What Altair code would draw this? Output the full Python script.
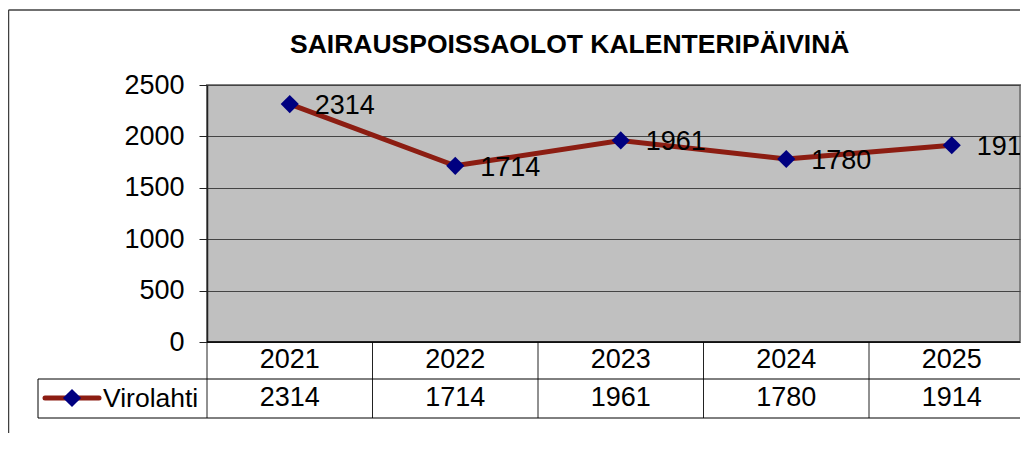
import altair as alt
import pandas as pd

# ---- data ----
years = [2021, 2022, 2023, 2024, 2025]
values = [2314, 1714, 1961, 1780, 1914]
series_name = ["Virolahti"]
title_text = ["SAIRAUSPOISSAOLOT KALENTERIPÄIVINÄ"]
y_ticks = [0, 500, 1000, 1500, 2000, 2500]

FONT = "Liberation Sans, Arial, sans-serif"
RED = "#8C1D12"
NAVY = "#000080"
FS = 27
W = 813
H = 257
CAT = 165.5

df = pd.DataFrame({"year": years, "value": values})
# column boundaries of the data table
bounds = pd.DataFrame({"b": [yr - 0.5 for yr in years]})
one = pd.DataFrame({"series": series_name, "title": title_text})

xscale = alt.Scale(domain=[years[0] - 0.5, years[0] - 0.5 + W / CAT], nice=False, zero=False)
yscale = alt.Scale(domain=[0, 2500], nice=False, zero=True)

x = alt.X("year:Q", scale=xscale, axis=None)
y = alt.Y(
    "value:Q",
    scale=yscale,
    axis=alt.Axis(
        values=y_ticks, title=None, grid=True, gridColor="#444444", gridWidth=1,
        domainColor="#222222", domainWidth=1.5, tickColor="#222222", tickSize=8,
        labelFontSize=FS, labelPadding=15, labelColor="black", labelFont=FONT,
        format="d",
    ),
)

base = alt.Chart(df)

line = base.mark_line(color=RED, strokeWidth=5).encode(x=x, y=y)
pts = base.mark_point(shape="diamond", filled=True, size=330, color=NAVY, opacity=1).encode(x=x, y=y)
labels = base.mark_text(align="left", baseline="middle", dx=25, dy=2, fontSize=FS, clip=True,
                        font=FONT, color="black").encode(x=x, y=y, text=alt.Text("value:Q", format="d"))

# data table text
row_years = base.mark_text(align="center", baseline="middle", fontSize=FS, font=FONT,
                           color="black").encode(x=x, y=alt.value(275), text=alt.Text("year:Q", format="d"))
row_vals = base.mark_text(align="center", baseline="middle", fontSize=FS, font=FONT,
                          color="black").encode(x=x, y=alt.value(313), text=alt.Text("value:Q", format="d"))

# data table grid
vlines = alt.Chart(bounds).mark_rule(color="#222222", strokeWidth=1).encode(
    x=alt.X("b:Q", scale=xscale, axis=None), y=alt.value(H), y2=alt.value(333))
top_line = alt.Chart(one).mark_rule(color="black", strokeWidth=1.5).encode(
    x=alt.value(0), x2=alt.value(W), y=alt.value(H))
mid_line = alt.Chart(one).mark_rule(color="black", strokeWidth=1).encode(
    x=alt.value(-169), x2=alt.value(W), y=alt.value(294))
bot_line = alt.Chart(one).mark_rule(color="black", strokeWidth=1).encode(
    x=alt.value(-169), x2=alt.value(W), y=alt.value(333))
leg_left = alt.Chart(one).mark_rule(color="black", strokeWidth=1).encode(
    x=alt.value(-169), y=alt.value(294), y2=alt.value(333))

# legend key
key_line = alt.Chart(one).mark_rule(color=RED, strokeWidth=5, strokeCap="round").encode(
    x=alt.value(-162), x2=alt.value(-108), y=alt.value(313))
key_pt = alt.Chart(one).mark_point(shape="diamond", filled=True, size=330, color=NAVY, opacity=1).encode(
    x=alt.value(-135), y=alt.value(313))
key_txt = alt.Chart(one).mark_text(align="left", baseline="middle", fontSize=26.5, font=FONT,
                                   color="black").encode(x=alt.value(-104), y=alt.value(314), text="series:N")

# outer frame
frame_left = alt.Chart(one).mark_rule(color="#404040", strokeWidth=1.5).encode(
    x=alt.value(-198.5), y=alt.value(-75), y2=alt.value(H + 91))
frame_top = alt.Chart(one).mark_rule(color="#404040", strokeWidth=1.5).encode(
    x=alt.value(-198.5), x2=alt.value(W), y=alt.value(-75))

# title
title = alt.Chart(one).mark_text(align="center", baseline="alphabetic", fontSize=26.5, font=FONT,
                                 fontWeight="bold", color="black").encode(
    x=alt.value(362.7), y=alt.value(-31.7), text="title:N")

chart = alt.layer(
    frame_left, frame_top, title,
    vlines, top_line, mid_line, bot_line, leg_left,
    line, pts, labels, row_years, row_vals,
    key_line, key_pt, key_txt,
).properties(
    width=W, height=H,
    autosize=alt.AutoSizeParams(type="none"),
    padding={"left": 199, "top": 77, "right": 1, "bottom": 91},
    background="white",
).configure_view(
    stroke="#808080", strokeWidth=2, fill="#C0C0C0"
)

chart.save("out.html", embed_options={"renderer": "svg", "actions": False})
